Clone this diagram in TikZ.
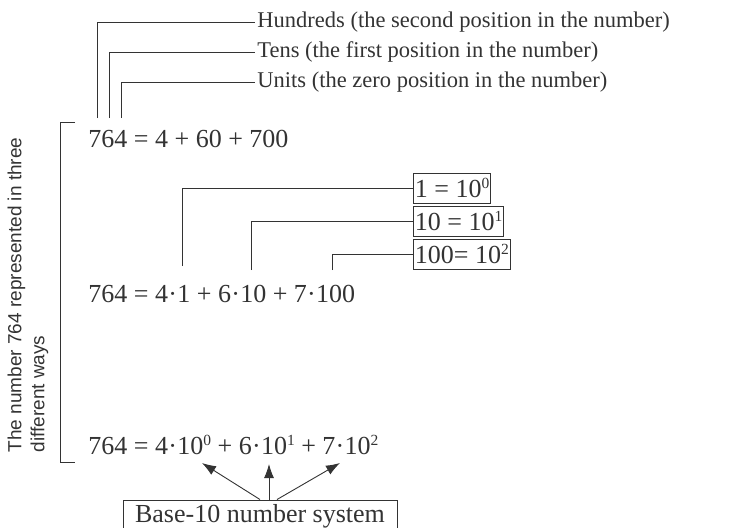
\documentclass[tikz,border=0pt]{standalone}
\usepackage{fontspec}
\setmainfont{Liberation Serif}
\setsansfont{Liberation Sans}
\usetikzlibrary{arrows.meta,positioning}
\definecolor{ink}{HTML}{333333}
\newcommand{\md}{\kern0.3pt\textperiodcentered\kern0.3pt}
\newcommand{\sups}[1]{\raisebox{0.8ex}{\fontsize{15.5}{15.5}\selectfont #1}}

\begin{document}
\begin{tikzpicture}[x=1pt,y=-1pt,>={Latex[length=14pt,width=10pt]},line width=0.9pt,draw=ink,text=ink,
  every node/.style={font=\fontsize{26}{30}\selectfont},
  lbl/.style={anchor=west,inner sep=2pt,font=\fontsize{22.5}{26}\selectfont},
  eqn/.style={anchor=west,inner sep=0pt},
  powbox/.style={draw,anchor=west,inner sep=1.5pt,minimum height=30pt}]
\useasboundingbox (0,0) rectangle (730,527);
% place-value labels at the top
\node[lbl] (hund) at (255,22) {Hundreds (the second position in the number)};
\node[lbl] (tens) at (255,52) {Tens (the first position in the number)};
\node[lbl] (unit) at (255,82) {Units (the zero position in the number)};
\coordinate (hd) at (97,118);
\coordinate (td) at (109,118);
\coordinate (ud) at (121,118);
\draw (hd) |- (hund.west);
\draw (td) |- (tens.west);
\draw (ud) |- (unit.west);
% the three forms
\node[eqn] (row1) at (88,139) {764 = 4 + 60 + 700};
\node[eqn] (row2) at (88,294) {764 = 4\md1 + 6\md10 + 7\md100};
\node[eqn] (row3) at (88,445) {764 = 4\md10\sups{0} + 6\md10\sups{1} + 7\md10\sups{2}};
% powers of ten
\node[powbox] (p0) at (413,188) {1 = 10\sups{0}};
\node[powbox] (p1) at (413,221) {10 = 10\sups{1}};
\node[powbox] (p2) at (413,254) {100= 10\sups{2}};
\coordinate (c0) at (182,266);
\coordinate (c1) at (251,270);
\coordinate (c2) at (332,270);
\draw (c0) |- (p0.west);
\draw (c1) |- (p1.west);
\draw (c2) |- (p2.west);
% bracket and its label
\coordinate (bt) at (75,122);
\coordinate (bb) at (75,462);
\draw (bt) -- ++(-15,0) |- (bb);
\node[rotate=90,align=left,font=\sffamily\fontsize{19}{23}\selectfont] (ways) at (28,295)
  {The number 764 represented in three\\different ways};
% base-10 box
\node[draw,anchor=base,inner sep=4pt,minimum width=274pt] (base) at (260,522) {Base-10 number system};
\coordinate (a0) at (202,463);
\coordinate (a1) at (269,464);
\coordinate (a2) at (340,463);
\draw[->] (base.north) -- (a0);
\draw[->] ([xshift=9pt]base.north) -- (a1);
\draw[->] ([xshift=17pt]base.north) -- (a2);
\end{tikzpicture}
\end{document}
